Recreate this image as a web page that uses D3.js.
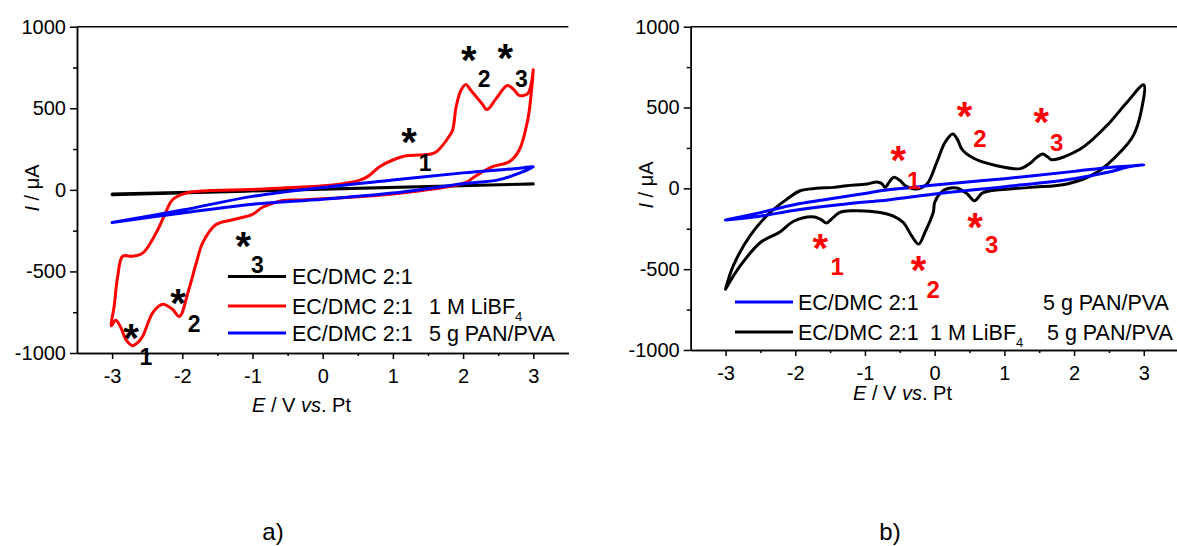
<!DOCTYPE html>
<html>
<head>
<meta charset="utf-8">
<script src="https://cdn.jsdelivr.net/npm/d3@7"></script>
<style>
  body { margin: 0; background: #fff; }
  svg { display: block; }
  text { font-family: "Liberation Sans", Arial, Helvetica, sans-serif; }
</style>
</head>
<body>
<svg id="fig" width="1177" height="546"></svg>
<script>
// ---- axis ticks (both panels) ----
const potentialTicks = [-3, -2, -1, 0, 1, 2, 3];
const potentialMinor = [-2.5, -1.5, -0.5, 0.5, 1.5, 2.5];
const currentTicks = [-1000, -500, 0, 500, 1000];
const currentMinor = [-750, -250, 250, 750];

// ---- panel a) ----
// EC/DMC 2:1 (solvent only): forward and reverse sweep
const solventE = [-3, 3, -3];
const solventI = [-30, 36, -26];

// EC/DMC 2:1 + 1 M LiBF4: anodic-side branch from +3 V back to -3 V
const saltUpperE = [3.0, 2.97, 2.92, 2.8, 2.72, 2.63, 2.47, 2.34, 2.27, 2.11, 2.04, 1.97, 1.9, 1.85, 1.78, 1.73, 1.62, 1.54, 1.38, 1.19, 1.0, 0.81, 0.64, 0.52, 0.14, -0.57, -1.04, -1.66, -1.95, -2.14, -2.25, -2.37, -2.56, -2.71, -2.85, -2.92, -2.97, -3.01];
const saltUpperI = [736, 650, 590, 579, 615, 640, 559, 492, 528, 610, 646, 610, 508, 366, 315, 285, 234, 220, 213, 209, 183, 142, 81, 58, 30, 12, 2, -5, -20, -61, -152, -262, -386, -407, -407, -529, -711, -833];
// ... and the cathodic-side branch from -3 V back up to +3 V
const saltLowerE = [-3.01, -2.95, -2.88, -2.8, -2.71, -2.62, -2.56, -2.42, -2.28, -2.14, -2.04, -1.92, -1.8, -1.71, -1.52, -1.28, -1.0, -0.85, -0.57, -0.33, 0.0, 0.52, 1.0, 1.57, 2.04, 2.18, 2.42, 2.66, 2.8, 2.92, 2.97, 3.0];
const saltLowerI = [-833, -800, -840, -920, -955, -930, -894, -752, -701, -732, -776, -630, -447, -325, -213, -183, -150, -105, -65, -62, -55, -43, -25, 5, 45, 85, 142, 173, 244, 427, 590, 736];

// EC/DMC 2:1 + 5 g PAN/PVA
const gelE = [-3, -2, -1, 0, 1, 2, 2.5, 2.8, 3];
const gelUpperI = [-200, -124, -40, 15, 60, 104, 122, 132, 142];
const gelLowerI = [-200, -142, -88, -58, -20, 37, 61, 102, 142];

// ---- panel b) ----
// EC/DMC 2:1 + 5 g PAN/PVA
const gelBE = [-3, -2.5, -2, -1, -0.78, 0, 1, 2, 2.5, 2.8, 3];
const gelBUpperI = [-196, -150, -100, -32, -15, 20, 60, 105, 129, 138, 146];
const gelBLowerI = [-196, -172, -135, -85, -77, -35, 10, 60, 101, 135, 146];

// EC/DMC 2:1 + 1 M LiBF4 + 5 g PAN/PVA: sweep from -3 V up to +3 V
const fullUpE = [-3.0, -2.89, -2.65, -2.36, -2.12, -1.93, -1.7, -1.45, -1.26, -0.97, -0.83, -0.76, -0.71, -0.65, -0.59, -0.5, -0.42, -0.26, -0.11, 0.03, 0.15, 0.26, 0.33, 0.39, 0.56, 0.89, 1.23, 1.37, 1.46, 1.55, 1.62, 1.68, 2.09, 2.47, 2.76, 3.0];
const fullUpI = [-624, -480, -294, -149, -67, -15, 0, 6, 16, 27, 40, 30, 6, 40, 68, 50, 16, -4, 27, 161, 285, 336, 300, 243, 186, 140, 122, 155, 190, 212, 195, 177, 243, 388, 533, 640];
// ... and back from +3 V down to -3 V
const fullDownE = [3.0, 2.97, 2.85, 2.66, 2.33, 1.9, 1.37, 0.8, 0.68, 0.57, 0.47, 0.32, 0.17, 0.08, 0.0, -0.02, -0.14, -0.23, -0.33, -0.45, -0.6, -0.78, -1.17, -1.36, -1.48, -1.55, -1.64, -1.76, -2.03, -2.22, -2.5, -2.79, -3.0];
const fullDownI = [640, 491, 326, 223, 99, 27, 6, -15, -30, -77, -35, 2, -4, -30, -87, -149, -273, -345, -294, -211, -170, -149, -139, -149, -190, -215, -190, -176, -205, -270, -335, -480, -624];

// peak labels: [E, I] for asterisks, [text, E, I] for peak numbers
const peakStarsA = [[-2.73, -854], [-2.06, -640], [-1.13, -285], [1.23, 348], [2.08, 854], [2.6, 866]];
const peakNumsA = [["1", -2.52, -1024], ["2", -1.83, -823], ["3", -0.93, -457], ["1", 1.46, 165], ["2", 2.3, 683], ["3", 2.83, 683]];
const peakStarsB = [[-0.52, 233], [0.43, 502], [1.53, 467], [-1.64, -311], [-0.23, -449], [0.58, -180]];
const peakNumsB = [["1", -0.3, 47], ["2", 0.65, 312], ["3", 1.75, 285], ["1", -1.4, -485], ["2", -0.02, -624], ["3", 0.82, -345]];

const RED = "#ff0000", BLUE = "#0000ff", BLACK = "#000000";

const fig = d3.select("#fig");
fig.append("rect").attr("width", 1177).attr("height", 546).attr("fill", "#fff");

function buildPanel(left, right, top, bottom) {
  const x = d3.scaleLinear().domain([-3.5, 3.5]).range([left, right]);
  const y = d3.scaleLinear().domain([-1000, 1000]).range([bottom, top]);
  const g = fig.append("g");

  const styleAxis = sel => {
    sel.selectAll("path.domain").attr("stroke-width", 1.5);
    sel.selectAll(".tick line").attr("stroke-width", 1.5);
    sel.selectAll("text").style("font-size", "20px")
      .style("font-family", '"Liberation Sans", Arial, sans-serif').attr("fill", "#000");
  };

  g.append("g").attr("transform", `translate(0,${bottom})`)
    .call(d3.axisBottom(x).tickValues(potentialMinor).tickSize(3).tickSizeOuter(0).tickFormat(""))
    .call(styleAxis);
  g.append("g").attr("transform", `translate(0,${bottom})`)
    .call(d3.axisBottom(x).tickValues(potentialTicks).tickSize(6).tickSizeOuter(0).tickPadding(10).tickFormat(d => String(d)))
    .call(styleAxis);
  g.append("g").attr("transform", `translate(${left},0)`)
    .call(d3.axisLeft(y).tickValues(currentMinor).tickSize(4).tickSizeOuter(0).tickFormat(""))
    .call(styleAxis);
  g.append("g").attr("transform", `translate(${left},0)`)
    .call(d3.axisLeft(y).tickValues(currentTicks).tickSize(7).tickSizeOuter(0).tickPadding(4).tickFormat(d => String(d)))
    .call(styleAxis);

  // top frame line
  g.append("line").attr("x1", left).attr("x2", right).attr("y1", top).attr("y2", top)
    .attr("stroke", "#000").attr("stroke-width", 1.5);

  return { x, y, g };
}

function drawLoop(p, es, is, color, curve) {
  const pts = es.map((e, i) => [e, is[i]]);
  const line = d3.line().x(d => p.x(d[0])).y(d => p.y(d[1])).curve(curve);
  p.g.append("path").attr("d", line(pts)).attr("fill", "none")
    .attr("stroke", color).attr("stroke-width", 3)
    .attr("stroke-linejoin", "round").attr("stroke-linecap", "round");
}

const smooth = d3.curveCatmullRom.alpha(0.5);

function xTitle(xPos, yPos) {
  const t = fig.append("text").attr("x", xPos).attr("y", yPos).style("font-size", "20px");
  t.append("tspan").attr("font-style", "italic").text("E");
  t.append("tspan").text(" / V ");
  t.append("tspan").attr("font-style", "italic").text("vs");
  t.append("tspan").text(". Pt");
}
function yTitle(xPos, yPos) {
  const t = fig.append("text").attr("transform", `translate(${xPos},${yPos}) rotate(-90)`)
    .attr("text-anchor", "middle").style("font-size", "20px");
  t.append("tspan").attr("font-style", "italic").text("I");
  t.append("tspan").text(" / \u03bcA");
}

function labels(p, stars, nums, color, numSize) {
  const starSize = 40;
  stars.forEach(([e, i]) => {
    p.g.append("text").attr("x", p.x(e)).attr("y", p.y(i) + 0.58 * starSize)
      .attr("text-anchor", "middle").attr("font-weight", "bold").attr("fill", color)
      .style("font-size", starSize + "px").text("*");
  });
  nums.forEach(([s, e, i]) => {
    p.g.append("text").attr("x", p.x(e)).attr("y", p.y(i) + 0.36 * numSize)
      .attr("text-anchor", "middle").attr("font-weight", "bold").attr("fill", color)
      .style("font-size", numSize + "px").text(s);
  });
}

function legendRow(x1, x2, yLine, color, segments) {
  fig.append("line").attr("x1", x1).attr("x2", x2).attr("y1", yLine).attr("y2", yLine)
    .attr("stroke", color).attr("stroke-width", 3);
  segments.forEach(([tx, str, sub]) => {
    const t = fig.append("text").attr("x", tx).attr("y", yLine + 7.5).style("font-size", "21.5px");
    t.append("tspan").text(str);
    if (sub) t.append("tspan").attr("dy", 7).style("font-size", "13px").text(sub);
  });
}

// ---------- panel a) ----------
const pa = buildPanel(77, 568.4, 26.7, 353);
drawLoop(pa, solventE, solventI, BLACK, d3.curveLinear);
drawLoop(pa, saltUpperE.concat(saltLowerE.slice(1)), saltUpperI.concat(saltLowerI.slice(1)), RED, smooth);
drawLoop(pa, gelE.concat(gelE.slice(0, -1).reverse()),
  gelUpperI.concat(gelLowerI.slice(0, -1).reverse()), BLUE, smooth);
labels(pa, peakStarsA, peakNumsA, BLACK, 23);

legendRow(228, 286, 276.5, BLACK, [[292, "EC/DMC 2:1"]]);
legendRow(228, 286, 306, RED, [[292, "EC/DMC 2:1"], [429, "1 M LiBF", "4"]]);
legendRow(228, 286, 333, BLUE, [[292, "EC/DMC 2:1"], [429, "5 g PAN/PVA"]]);

xTitle(252, 412);
yTitle(39, 188);

// ---------- panel b) ----------
const pb = buildPanel(690.7, 1178.6, 26.7, 350);
drawLoop(pb, fullUpE.concat(fullDownE.slice(1)), fullUpI.concat(fullDownI.slice(1)), BLACK, smooth);
drawLoop(pb, gelBE.concat(gelBE.slice(0, -1).reverse()),
  gelBUpperI.concat(gelBLowerI.slice(0, -1).reverse()), BLUE, smooth);
labels(pb, peakStarsB, peakNumsB, RED, 24);

legendRow(735, 793, 302, BLUE, [[798, "EC/DMC 2:1"], [1043, "5 g PAN/PVA"]]);
legendRow(735, 793, 332, BLACK, [[798, "EC/DMC 2:1"], [930, "1 M LiBF", "4"], [1047, "5 g PAN/PVA"]]);

xTitle(853, 400);
yTitle(653, 185);

// sub-figure captions
fig.append("text").attr("x", 273).attr("y", 540).attr("text-anchor", "middle").style("font-size", "24px").text("a)");
fig.append("text").attr("x", 890).attr("y", 540).attr("text-anchor", "middle").style("font-size", "24px").text("b)");
</script>
</body>
</html>
